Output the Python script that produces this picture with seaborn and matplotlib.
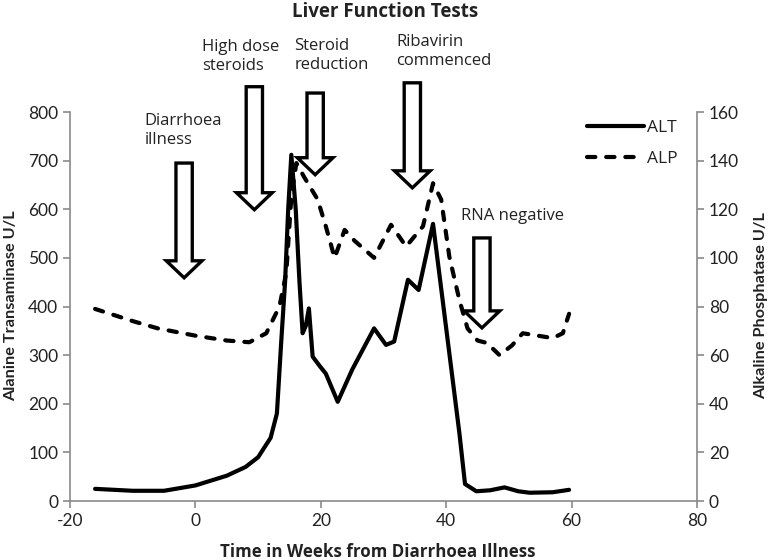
import matplotlib
matplotlib.use("Agg")
import matplotlib.pyplot as plt
from matplotlib.lines import Line2D
import seaborn as sns
import pandas as pd

# ---------------- data ----------------
alt_weeks = [-16, -10, -5, 0, 5, 8, 10, 12, 13, 13.7, 14.3, 14.8, 15.3, 16.0, 16.6, 17.1,
             17.6, 18.1, 18.7, 19.8, 20.8, 22.7, 25, 28.5, 30.4, 31.7, 33.9, 35.6, 37.9,
             42.1, 43.0, 44.8, 47, 49.3, 51.5, 53.3, 57, 59.6]
alt_values = [25, 21, 21, 32, 52, 70, 90, 130, 180, 330, 450, 600, 712, 600, 450, 345,
              360, 396, 297, 278, 262, 204, 270, 355, 321, 328, 455, 434, 570,
              140, 35, 20, 22, 28, 20, 17, 18, 23]

alp_weeks = [-16, -10, -6, 0, 5, 8.6, 11.3, 13.4, 14.5, 15.3, 16.1, 17.4, 19.5, 20.8, 22.2,
             23.8, 25.4, 28.5, 31.2, 33.6, 36.3, 37.9, 39.2, 40.5, 42.1, 43.4, 45, 46.5,
             48.5, 50.5, 52.2, 57, 58.6, 59.6]
alp_values = [79, 74, 71, 68, 66, 65.3, 69, 80, 94, 125, 139, 133, 124, 113, 100,
              111.5, 107, 100, 113.6, 104.7, 113, 130.7, 124, 100.5, 82.7, 71, 66, 65,
              60, 64, 69, 67, 69, 77]

event_labels = ["Diarrhoea\nillness", "High dose\nsteroids", "Steroid\nreduction",
                "Ribavirin\ncommenced", "RNA negative"]
event_weeks = [-1.8, 9.4, 19.1, 34.6, 45.7]
arrow_tops = [695, 852, 839, 860, 541]
arrow_tips = [459, 599, 671, 644, 356]
label_x = [-8.1, 1.0, 15.8, 32.0, 42.4]
label_top = [797, 950, 952, 960, 602]

x_ticks = [-20, 0, 20, 40, 60, 80]
alt_ticks = [0, 100, 200, 300, 400, 500, 600, 700, 800]
alp_ticks = [0, 20, 40, 60, 80, 100, 120, 140, 160]

title = "Liver Function Tests"
xlabel = "Time in Weeks from Diarrhoea Illness"
ylabel_left = "Alanine Transaminase U/L"
ylabel_right = "Alkaline Phosphatase U/L"

# ---------------- style ----------------
sns.set_style("ticks")
plt.rcParams["font.family"] = ["Lato", "DejaVu Sans"]
plt.rcParams["axes.unicode_minus"] = False
wide_font = ["Open Sans", "DejaVu Sans"]

axis_grey = "#8a8a8a"
text_col = "#222222"
LW = 3.0
DASH = [2.0, 2.6]

fig = plt.figure(figsize=(7.7, 5.6), dpi=100)
ax = fig.add_axes([70 / 770, 1 - 501 / 560, 627 / 770, 389 / 560])
ax2 = ax.twinx()

alt_df = pd.DataFrame({"week": alt_weeks, "ALT": alt_values})
alp_df = pd.DataFrame({"week": alp_weeks, "ALP": alp_values})

sns.lineplot(data=alt_df, x="week", y="ALT", ax=ax, color="black", lw=LW,
             sort=False, estimator=None, legend=False, zorder=3)
sns.lineplot(data=alp_df, x="week", y="ALP", ax=ax2, color="black", lw=LW,
             sort=False, estimator=None, legend=False, zorder=3)
for l in ax2.lines:
    l.set_dashes(DASH)
    l.set_dash_capstyle("round")
    l.set_dash_joinstyle("round")
for l in ax.lines:
    l.set_solid_capstyle("round")
    l.set_solid_joinstyle("round")

ax.set_xlim(-20, 80)
ax.set_ylim(0, 800)
ax2.set_ylim(0, 160)
ax.set_xticks(x_ticks)
ax.set_yticks(alt_ticks)
ax2.set_yticks(alp_ticks)

for a in (ax, ax2):
    a.spines["top"].set_visible(False)
    for s in ("left", "right", "bottom"):
        a.spines[s].set_color(axis_grey)
        a.spines[s].set_linewidth(1.2)
    a.tick_params(axis="both", colors=axis_grey, labelcolor=text_col,
                  labelsize=12.5, length=5, width=1.2, direction="out")
ax.spines["right"].set_visible(False)
ax2.spines["left"].set_visible(False)
ax2.spines["bottom"].set_visible(False)

ax.set_xlabel("")
ax.set_ylabel("")
ax2.set_ylabel("")

fig.text(378 / 770, 1 - 552 / 560, xlabel, ha="center", va="center",
         fontsize=12.2, fontweight="bold", color=text_col, family=wide_font)
fig.text(11 / 770, 1 - 306 / 560, ylabel_left, ha="center", va="center",
         rotation=90, fontsize=11.7, fontweight="bold", color=text_col)
fig.text(761 / 770, 1 - 306 / 560, ylabel_right, ha="center", va="center",
         rotation=90, fontsize=11.7, fontweight="bold", color=text_col)
fig.text(385 / 770, 1 - 12 / 560, title, ha="center", va="center",
         fontsize=13.5, fontweight="bold", color=text_col, family=wide_font)

# ---------------- event arrows ----------------
sw, hw, hl = 1.3, 2.85, 35
for xc, yt, yb, lab, lx, ly in zip(event_weeks, arrow_tops, arrow_tips,
                                   event_labels, label_x, label_top):
    xs = [xc - sw, xc + sw, xc + sw, xc + hw, xc, xc - hw, xc - sw, xc - sw]
    ys = [yt, yt, yb + hl, yb + hl, yb, yb + hl, yb + hl, yt]
    ax.fill(xs, ys, facecolor="white", edgecolor="black", lw=2.4,
            joinstyle="miter", clip_on=False, zorder=5)
    ax.text(lx, ly, lab, ha="left", va="top", fontsize=12, color=text_col,
            family=wide_font, linespacing=1.25, clip_on=False, zorder=6)

# ---------------- legend ----------------
handles = [Line2D([], [], color="black", lw=LW, solid_capstyle="round"),
           Line2D([], [], color="black", lw=LW, dashes=DASH, dash_capstyle="round")]
leg = ax2.legend(handles, ["ALT", "ALP"], loc="upper left",
                 bbox_to_anchor=((587 - 70) / 627, (501 - 120) / 389),
                 frameon=False, borderpad=0, borderaxespad=0, handlelength=3.3,
                 handletextpad=0.15, labelspacing=0.85,
                 prop={"family": wide_font, "size": 12.5})
for t in leg.get_texts():
    t.set_color(text_col)

fig.savefig("out.png", dpi=100)
